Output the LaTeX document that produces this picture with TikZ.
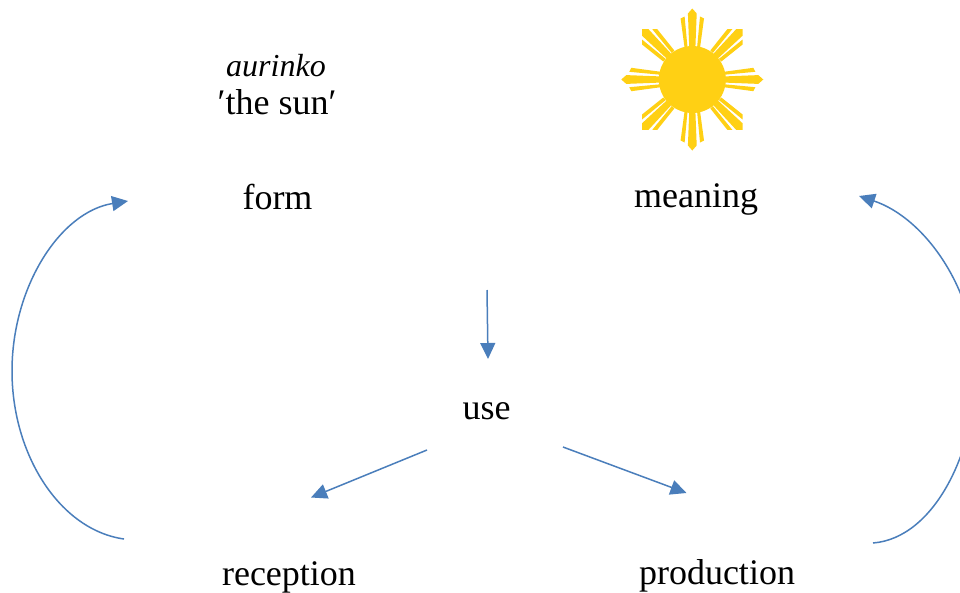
\documentclass[tikz,border=0pt]{standalone}
\usepackage{fontspec}
\setmainfont{Liberation Serif}
\usetikzlibrary{arrows.meta}
\definecolor{arrowblue}{HTML}{4A7EBB}
\definecolor{sunyellow}{HTML}{FFD014}
\tikzset{
  label/.style={inner sep=0pt,font=\fontsize{36}{40}\selectfont,text=black},
  link/.style={draw=arrowblue,line width=1.5pt,-{Triangle[length=16pt,width=15pt]}},
}
\newcommand{\sunrays}{%
  \fill (0,-71) -- (4.4,-66) -- (3,-30) -- (-3,-30) -- (-4.4,-66) -- cycle;
  \fill (-11.7,-61) -- (-7.7,-63) -- (-4.6,-30) -- (-7.5,-30) -- cycle;
  \fill (11.7,-61) -- (7.7,-63) -- (4.6,-30) -- (7.5,-30) -- cycle;
}
\newcommand{\sundiag}{%
  \fill (-50.3,-50.3) -- (-43.8,-50.3) -- (-21,-25.6) -- (-25.6,-21) -- (-50.3,-43.8) -- cycle;
  \fill (-40,-50.3) -- (-35,-50.3) -- (-18,-29) -- (-20.5,-26.5) -- cycle;
  \fill (-50.3,-40) -- (-50.3,-35) -- (-29,-18) -- (-26.5,-20.5) -- cycle;
}
\begin{document}
\begin{tikzpicture}[x=1pt,y=-1pt]
\useasboundingbox (0,0) rectangle (960,592);
\clip (0,0) rectangle (960,592);
\fill[white] (0,0) rectangle (960,592);
% sun
\begin{scope}[shift={(692.3,79.5)},fill=sunyellow]
  \fill (0,0) circle (33.5);
  \foreach \a in {0,90,180,270}{
    \begin{scope}[rotate=\a]\sunrays\sundiag\end{scope}
  }
\end{scope}
% labels
\node[label,font=\fontsize{32}{36}\selectfont\itshape] (aurinko) at (276,65.5) {aurinko};
\node[label] (sun) at (277,102.5) {′the sun′};
\node[label] (form) at (277.5,197) {form};
\node[label] (meaning) at (696,199) {meaning};
\node[label] (use) at (486.5,411) {use};
\node[label] (reception) at (289,577) {reception};
\node[label] (production) at (717,576) {production};
% connector ends
\coordinate (usetop) at (487,290);
\coordinate (usein) at (488,359);
\coordinate (useleft) at (427,450);
\coordinate (recin) at (311,497.5);
\coordinate (useright) at (563,447);
\coordinate (prodin) at (686.5,493);
\coordinate (recout) at (124,539);
\coordinate (formin) at (128,201);
\coordinate (prodout) at (873,543);
\coordinate (meanin) at (859,196);
\coordinate (lmid) at (12,371);
\coordinate (rmid) at (976,370);
\draw[link] (usetop) -- (usein);
\draw[link] (useleft) -- (recin);
\draw[link] (useright) -- (prodin);
\draw[link] (recout) .. controls (60,530) and (12,455) .. (lmid) .. controls (12,287) and (60,212) .. (formin);
\draw[link] (prodout) .. controls (935,538) and (976,450) .. (rmid) .. controls (976,290) and (925,218) .. (meanin);
\end{tikzpicture}
\end{document}
